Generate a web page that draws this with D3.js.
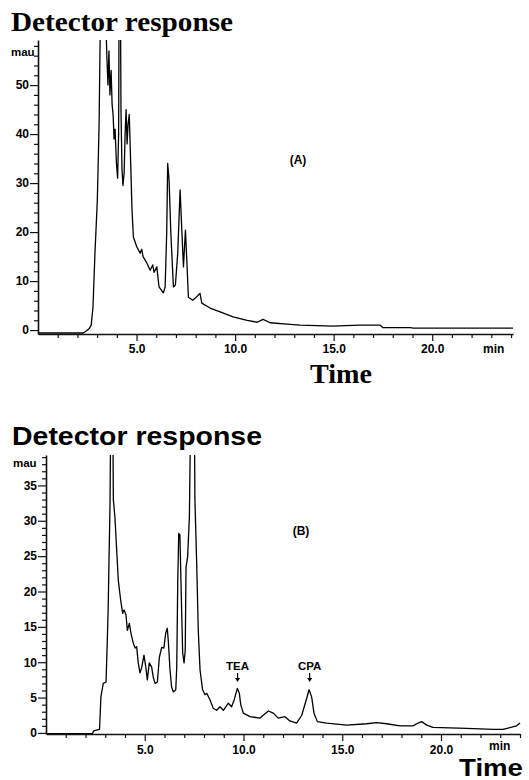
<!DOCTYPE html>
<html>
<head>
<meta charset="utf-8">
<script src="https://cdn.jsdelivr.net/npm/d3@7"></script>
<style>
  html, body { margin: 0; padding: 0; background: #fff; }
  svg { display: block; }
  .tick text { font-family: "Liberation Sans", Arial, sans-serif; font-weight: bold; font-size: 12px; fill: #000; }
  .tick line { stroke: #111; stroke-width: 1.2; }
  .domain { stroke: #111; stroke-width: 1.6; }
</style>
</head>
<body>
<svg id="chart" width="529" height="780"></svg>
<script>
// ---------- DATA ----------
// Chromatogram (A): retention time (min) and detector response (mAU)
const timesA = [0.0, 2.30, 2.45, 2.60, 2.70, 2.79, 2.89, 3.01, 3.10, 3.16, 3.45, 3.50, 3.55, 3.60, 3.65, 3.71, 3.76, 3.81, 3.86, 3.91, 3.98, 4.04, 4.09, 4.11, 4.19, 4.21, 4.26, 4.31, 4.37, 4.42, 4.47, 4.52, 4.57, 4.63, 4.71, 4.77, 4.84, 5.01, 5.18, 5.26, 5.33, 5.52, 5.69, 5.82, 5.89, 6.03, 6.14, 6.36, 6.45, 6.53, 6.58, 6.65, 6.74, 6.87, 6.97, 7.09, 7.21, 7.29, 7.38, 7.48, 7.55, 7.63, 7.85, 8.05, 8.22, 8.31, 8.73, 9.24, 9.90, 10.61, 11.12, 11.42, 11.78, 12.64, 13.30, 14.97, 15.60, 16.35, 17.36, 17.51, 18.88, 19.04, 24.10];
const valuesA = [-0.6, -0.6, -0.2, 0.3, 1.0, 4.7, 15.7, 26.5, 42, 62, 62, 55, 50, 57, 48, 53, 46, 44, 39, 41, 34, 31, 40, 62, 62, 45, 33, 29.5, 32, 40, 45, 38, 42, 44, 33, 24.5, 19, 17, 15.7, 16.5, 15, 13.7, 12.2, 13.3, 11.8, 12.9, 8.8, 7.6, 8.8, 19.8, 34, 30.6, 19.8, 8.8, 9.2, 15.7, 28.6, 21, 12.9, 20.4, 14.3, 6.7, 6.1, 6.8, 7.5, 5.5, 4.5, 3.7, 2.7, 2.0, 1.6, 2.2, 1.5, 1.2, 1.0, 0.8, 0.9, 1.0, 1.0, 0.5, 0.5, 0.4, 0.4];

// Chromatogram (B)
const timesB = [0.0, 2.36, 2.41, 2.71, 2.78, 2.90, 3.04, 3.10, 3.15, 3.19, 3.24, 3.27, 3.39, 3.41, 3.49, 3.58, 3.66, 3.78, 3.88, 3.95, 4.05, 4.12, 4.22, 4.30, 4.42, 4.51, 4.59, 4.67, 4.76, 4.85, 4.96, 5.06, 5.13, 5.23, 5.35, 5.43, 5.52, 5.64, 5.74, 5.86, 5.97, 6.06, 6.14, 6.19, 6.28, 6.36, 6.45, 6.57, 6.62, 6.67, 6.72, 6.78, 6.84, 6.92, 6.99, 7.05, 7.09, 7.17, 7.26, 7.31, 7.52, 7.54, 7.63, 7.71, 7.80, 7.93, 8.05, 8.14, 8.30, 8.47, 8.64, 8.81, 8.98, 9.23, 9.40, 9.53, 9.69, 9.79, 9.86, 9.99, 10.33, 10.84, 11.00, 11.26, 11.51, 11.76, 12.10, 12.35, 12.69, 12.95, 13.20, 13.32, 13.45, 13.57, 13.74, 14.21, 15.23, 16.24, 16.74, 17.25, 17.92, 18.58, 18.84, 19.02, 19.28, 19.59, 21.30, 22.63, 23.14, 23.83, 24.00];
const valuesB = [-0.1, -0.1, 0.3, 0.5, 5.1, 7.0, 7.2, 12.7, 17.8, 24.4, 32, 42, 42, 33, 30.5, 25.8, 21.6, 18.8, 16.9, 17.4, 16.7, 14.5, 15.5, 14.1, 12.7, 12.0, 12.2, 9.9, 8.5, 9.3, 11.0, 9.2, 7.5, 9.9, 9.3, 7.9, 7.0, 7.2, 10.7, 12.1, 12.0, 14.1, 14.8, 13.1, 8.9, 6.5, 5.8, 6.1, 9.3, 21.2, 28.2, 28.0, 20.6, 11.3, 9.9, 11.7, 23.4, 24.9, 30.5, 42, 42, 33, 24, 14.5, 8.9, 6.1, 5.4, 5.6, 4.7, 3.5, 3.2, 3.7, 3.2, 4.2, 3.7, 4.7, 6.3, 5.6, 4.0, 2.8, 2.3, 2.1, 2.5, 3.1, 2.8, 2.1, 2.3, 1.7, 1.4, 2.5, 4.9, 6.1, 5.1, 2.8, 1.6, 1.4, 1.1, 1.3, 1.45, 1.3, 1.0, 1.0, 1.4, 1.6, 1.1, 0.8, 0.65, 0.5, 0.5, 1.0, 1.4];

// Tick labels / annotations
const xMajorTicks = [5, 10, 15, 20];
const yMajorTicksA = [0, 10, 20, 30, 40, 50];
const yMajorTicksB = [0, 5, 10, 15, 20, 25, 30, 35];
const panelLabels = ["(A)", "(B)"];
const peakNames = ["TEA", "CPA"];
const peakTimes = [9.7, 13.35];

// ---------- DRAW ----------
const svg = d3.select("#chart");

function panel(cfg) {
  const x = d3.scaleLinear().domain(cfg.xDomain).range([cfg.left, cfg.right]);
  const y = d3.scaleLinear().domain(cfg.yDomain).range([cfg.bottom, cfg.top]);
  const g = svg.append("g");

  const clipId = "clip" + cfg.id;
  svg.append("clipPath").attr("id", clipId)
    .append("rect").attr("x", cfg.left).attr("y", cfg.top)
    .attr("width", cfg.right - cfg.left + 10).attr("height", cfg.bottom - cfg.top);

  // x axis minor ticks
  g.append("g").attr("transform", `translate(0,${cfg.bottom})`)
    .call(d3.axisBottom(x).tickValues(d3.range(1, 25).filter(d => d % 5 !== 0)).tickSize(4).tickSizeOuter(0).tickFormat(""))
    .call(a => a.select(".domain").remove());
  // x axis major ticks
  g.append("g").attr("transform", `translate(0,${cfg.bottom})`)
    .call(d3.axisBottom(x).tickValues(xMajorTicks).tickSize(7).tickSizeOuter(0).tickPadding(cfg.xPad).tickFormat(d3.format(".1f")));

  // y axis minor ticks
  g.append("g").attr("transform", `translate(${cfg.left},0)`)
    .call(d3.axisLeft(y).tickValues(cfg.yMinor).tickSize(4).tickSizeOuter(0).tickFormat(""))
    .call(a => a.select(".domain").remove());
  // y axis major
  g.append("g").attr("transform", `translate(${cfg.left},0)`)
    .call(d3.axisLeft(y).tickValues(cfg.yMajor).tickSize(8).tickSizeOuter(0).tickPadding(1).tickFormat(d3.format("d")));

  // units
  g.append("text").attr("x", cfg.mauX).attr("y", cfg.mauY)
    .attr("font-family", "Liberation Sans, Arial, sans-serif").attr("font-weight", "bold").attr("font-size", 11.5)
    .text("mau");
  g.append("text").attr("x", cfg.minX).attr("y", cfg.bottom + cfg.minDy)
    .attr("font-family", "Liberation Sans, Arial, sans-serif").attr("font-weight", "bold").attr("font-size", 12)
    .text("min");

  // trace
  const line = d3.line().x((d, i) => x(cfg.times[i])).y(d => y(d));
  g.append("path").datum(cfg.values)
    .attr("clip-path", `url(#${clipId})`)
    .attr("fill", "none").attr("stroke", "#000").attr("stroke-width", 1.3)
    .attr("stroke-linejoin", "round")
    .attr("d", line);
  return {x, y, g};
}

// Panel A
const A = panel({
  id: "A", left: 38, right: 513, top: 40, bottom: 334,
  xDomain: [0, 24.1], yDomain: [-0.8, 59.2],
  yMajor: yMajorTicksA, yMinor: d3.range(0, 59, 2).filter(d => d % 10 !== 0),
  times: timesA, values: valuesA, mauX: 11, mauY: 56, minX: 483, minDy: 19, xPad: 3
});
svg.append("text").attr("x", 11).attr("y", 31)
  .attr("font-family", "Liberation Serif, Times New Roman, serif").attr("font-weight", "bold")
  .attr("font-size", 27).attr("textLength", 222).attr("lengthAdjust", "spacingAndGlyphs")
  .text("Detector response");
svg.append("text").attr("x", 310).attr("y", 383)
  .attr("font-family", "Liberation Serif, Times New Roman, serif").attr("font-weight", "bold")
  .attr("font-size", 27).attr("textLength", 62).attr("lengthAdjust", "spacingAndGlyphs")
  .text("Time");
svg.append("text").attr("x", 298).attr("y", 164).attr("text-anchor", "middle")
  .attr("font-family", "Liberation Sans, Arial, sans-serif").attr("font-weight", "bold").attr("font-size", 12)
  .text(panelLabels[0]);

// Panel B
const B = panel({
  id: "B", left: 46, right: 520, top: 455, bottom: 734,
  xDomain: [0, 24.0], yDomain: [-0.15, 39.3],
  yMajor: yMajorTicksB, yMinor: d3.range(0, 40, 1).filter(d => d % 5 !== 0),
  times: timesB, values: valuesB, mauX: 13, mauY: 467, minX: 489, minDy: 16, xPad: 4
});
svg.append("text").attr("x", 12).attr("y", 445)
  .attr("font-family", "Liberation Sans, Arial, sans-serif").attr("font-weight", "bold")
  .attr("font-size", 26).attr("textLength", 250).attr("lengthAdjust", "spacingAndGlyphs")
  .text("Detector response");
svg.append("text").attr("x", 459).attr("y", 776)
  .attr("font-family", "Liberation Sans, Arial, sans-serif").attr("font-weight", "bold")
  .attr("font-size", 24).attr("textLength", 64).attr("lengthAdjust", "spacingAndGlyphs")
  .text("Time");
svg.append("text").attr("x", 301).attr("y", 535).attr("text-anchor", "middle")
  .attr("font-family", "Liberation Sans, Arial, sans-serif").attr("font-weight", "bold").attr("font-size", 12)
  .text(panelLabels[1]);

// peak annotations
peakNames.forEach((name, i) => {
  const px = B.x(peakTimes[i]);
  svg.append("text").attr("x", px).attr("y", 670).attr("text-anchor", "middle")
    .attr("font-family", "Liberation Sans, Arial, sans-serif").attr("font-weight", "bold").attr("font-size", 11.5)
    .text(name);
  svg.append("line").attr("x1", px).attr("x2", px).attr("y1", 673).attr("y2", 679)
    .attr("stroke", "#000").attr("stroke-width", 1.2);
  svg.append("path").attr("d", `M${px - 2.5},${678} L${px + 2.5},${678} L${px},${682} Z`).attr("fill", "#000");
});
</script>
</body>
</html>
